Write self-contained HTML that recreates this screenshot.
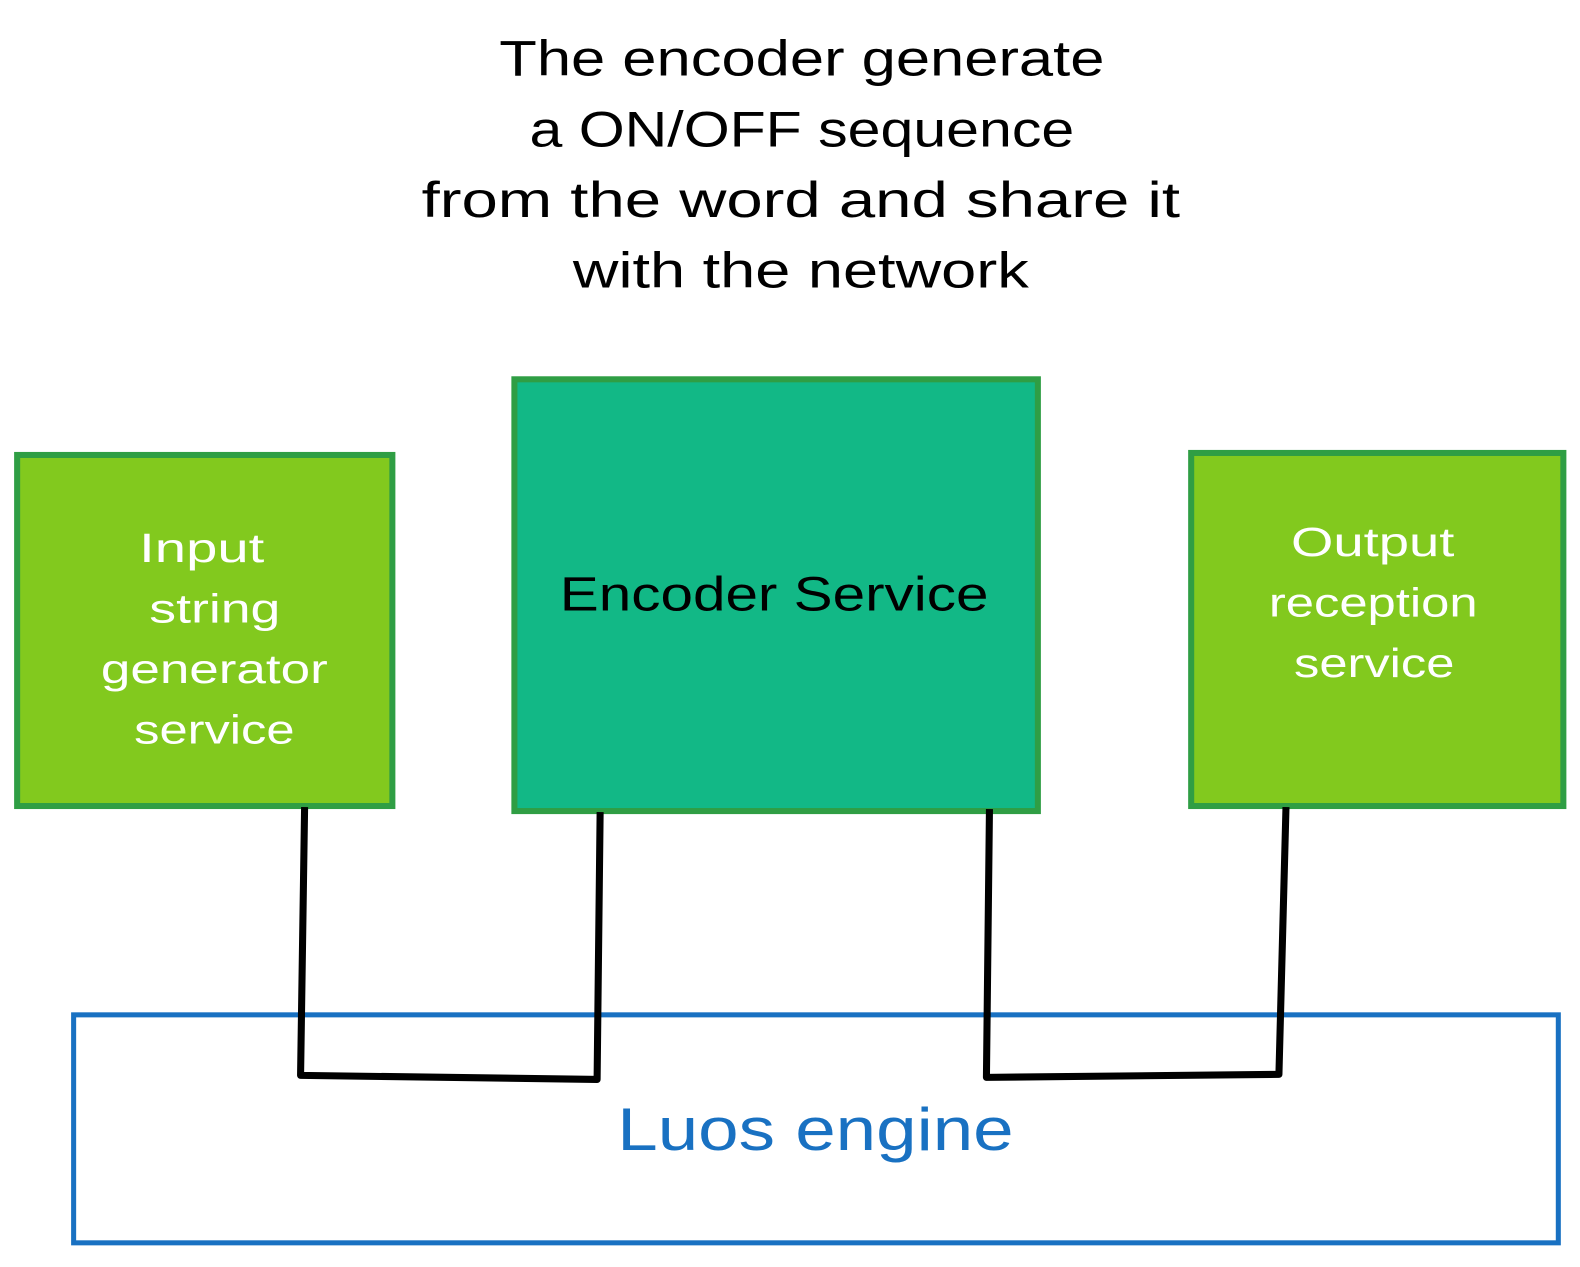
<!DOCTYPE html>
<html><head><meta charset="utf-8"><style>
html,body{margin:0;padding:0;background:#fff;}
body{width:1580px;height:1262px;overflow:hidden;}
text{font-family:"Liberation Sans",sans-serif;}
</style></head><body>
<svg width="1580" height="1262" viewBox="0 0 1566.5 1251" preserveAspectRatio="none" xmlns="http://www.w3.org/2000/svg">
<g font-size="50" fill="#000" lengthAdjust="spacingAndGlyphs">
<text x="495" y="75" textLength="600" lengthAdjust="spacingAndGlyphs">The encoder generate</text>
<text x="525" y="145" textLength="540" lengthAdjust="spacingAndGlyphs">a ON/OFF sequence</text>
<text x="418" y="215" textLength="752" lengthAdjust="spacingAndGlyphs">from the word and share it</text>
<text x="568" y="285" textLength="452" lengthAdjust="spacingAndGlyphs">with the network</text>
</g>
<rect x="17" y="451" width="372" height="348" fill="#82c91e" stroke="#2f9e44" stroke-width="6"/>
<rect x="510" y="376" width="519" height="428" fill="#12b886" stroke="#2f9e44" stroke-width="6"/>
<rect x="1181" y="449" width="369" height="350" fill="#82c91e" stroke="#2f9e44" stroke-width="6"/>
<rect x="73" y="1006" width="1472" height="226" fill="#fff" stroke="#1971c2" stroke-width="5"/>
<g fill="none" stroke="#000" stroke-width="7" stroke-linejoin="round">
<polyline points="302,800 298,1066 592,1070 595,805"/>
<polyline points="981,802 978,1068 1268,1065 1275,800"/>
</g>
<g font-size="40" fill="#fff">
<text x="138" y="557" textLength="124" lengthAdjust="spacingAndGlyphs">Input</text>
<text x="148" y="617" textLength="130" lengthAdjust="spacingAndGlyphs">string</text>
<text x="100" y="677" textLength="225" lengthAdjust="spacingAndGlyphs">generator</text>
<text x="133" y="737" textLength="159" lengthAdjust="spacingAndGlyphs">service</text>
<text x="1280" y="551" textLength="162" lengthAdjust="spacingAndGlyphs">Output</text>
<text x="1258" y="611" textLength="207" lengthAdjust="spacingAndGlyphs">reception</text>
<text x="1283" y="671" textLength="159" lengthAdjust="spacingAndGlyphs">service</text>
</g>
<text x="555" y="605" font-size="48" fill="#000" textLength="425" lengthAdjust="spacingAndGlyphs">Encoder Service</text>
<text x="612" y="1140" font-size="60" fill="#1971c2" textLength="393" lengthAdjust="spacingAndGlyphs">Luos engine</text>
</svg>
</body></html>
